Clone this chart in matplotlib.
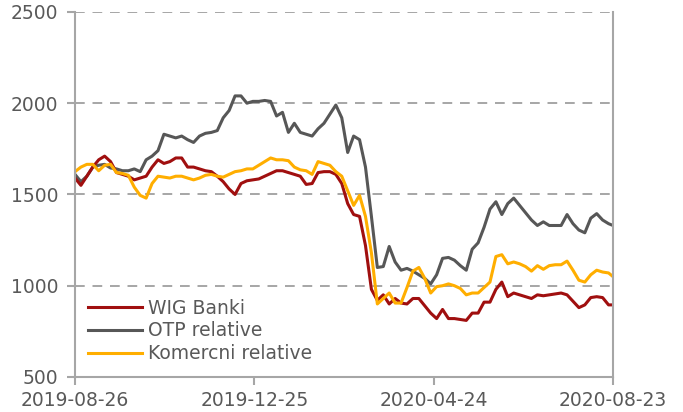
import numpy as np
import pandas as pd
import matplotlib
matplotlib.use("Agg")
import matplotlib.pyplot as plt
import matplotlib.dates as mdates

# dates every 4 days plus the last day of the range
dates = pd.date_range("2019-08-26", periods=91, freq="4D").append(pd.DatetimeIndex(["2020-08-23"]))

wig_banki = [1590, 1550, 1600, 1650, 1690, 1710, 1680, 1620, 1610, 1600,
             1580, 1590, 1600, 1650, 1690, 1670, 1680, 1700, 1700, 1650,
             1650, 1640, 1630, 1625, 1600, 1570, 1530, 1500, 1560, 1575,
             1580, 1585, 1600, 1615, 1630, 1630, 1620, 1610, 1600, 1555,
             1560, 1620, 1625, 1625, 1610, 1560, 1450, 1390, 1380, 1220,
             980, 920, 950, 900, 930, 905, 900, 930, 930, 890,
             850, 820, 870, 820, 820, 815, 810, 850, 850, 910,
             910, 980, 1020, 940, 960, 950, 940, 930, 950, 945,
             950, 955, 960, 950, 915, 880, 895, 935, 940, 935,
             895, 895]

otp_relative = [1610, 1570, 1600, 1650, 1660, 1665, 1645, 1640, 1630, 1630,
                1640, 1625, 1690, 1710, 1740, 1830, 1820, 1810, 1820, 1800,
                1785, 1820, 1835, 1840, 1850, 1920, 1960, 2040, 2040, 2000,
                2010, 2010, 2015, 2010, 1930, 1950, 1840, 1890, 1840, 1830,
                1820, 1860, 1890, 1940, 1990, 1920, 1730, 1820, 1800, 1650,
                1380, 1100, 1105, 1215, 1130, 1085, 1095, 1080, 1060, 1040,
                1010, 1060, 1150, 1155, 1140, 1110, 1085, 1200, 1235, 1320,
                1420, 1460, 1390, 1450, 1480, 1440, 1400, 1360, 1330, 1350,
                1330, 1330, 1330, 1390, 1340, 1305, 1290, 1370, 1395, 1360,
                1340, 1330]

komercni_relative = [1625, 1650, 1665, 1665, 1630, 1660, 1665, 1620, 1615, 1605,
                     1540, 1495, 1480, 1560, 1600, 1595, 1590, 1600, 1600, 1590,
                     1580, 1590, 1605, 1610, 1600, 1595, 1610, 1625, 1630, 1640,
                     1640, 1660, 1680, 1700, 1690, 1690, 1685, 1650, 1635, 1630,
                     1610, 1680, 1670, 1660, 1625, 1600, 1520, 1440, 1495, 1380,
                     1180, 900, 930, 960, 905, 905, 990, 1080, 1100, 1040,
                     960, 995, 1000, 1010, 1000, 985, 950, 960, 960, 990,
                     1020, 1160, 1170, 1120, 1130, 1120, 1105, 1080, 1110, 1090,
                     1110, 1115, 1115, 1135, 1085, 1030, 1020, 1060, 1085, 1075,
                     1070, 1050]

tick_dates = ["2019-08-26", "2019-12-25", "2020-04-24", "2020-08-23"]

text_col = "#595959"
axis_col = "#A6A6A6"

fig = plt.figure(figsize=(6.83, 4.12), dpi=100)
ax = fig.add_axes([0.1098, 0.085, 0.7877, 0.886])

l_otp, = ax.plot(dates, otp_relative, color="#575757", lw=2.2, label="OTP relative")
l_wig, = ax.plot(dates, wig_banki, color="#A00F0F", lw=2.2, label="WIG Banki")
l_kom, = ax.plot(dates, komercni_relative, color="#FFAE00", lw=2.2, label="Komercni relative")

ax.set_ylim(500, 2500)
ax.set_yticks([500, 1000, 1500, 2000, 2500])
ax.set_xlim(pd.Timestamp(tick_dates[0]), pd.Timestamp(tick_dates[-1]))
ax.set_xticks(pd.to_datetime(tick_dates))
ax.xaxis.set_major_formatter(mdates.DateFormatter("%Y-%m-%d"))

for y in [1000, 1500, 2000, 2500]:
    ax.axhline(y, color=axis_col, lw=1.4, ls=(0, (5, 4)), zorder=0)

ax.spines["top"].set_visible(False)
for s in ["left", "bottom", "right"]:
    ax.spines[s].set_color(axis_col)
    ax.spines[s].set_linewidth(1.5)

ax.tick_params(axis="both", colors=axis_col, labelcolor=text_col, labelsize=13.5,
               length=6, width=1.5, direction="out")
ax.tick_params(axis="x", pad=4)
ax.tick_params(axis="y", pad=6)

leg = ax.legend(handles=[l_wig, l_otp, l_kom], loc="upper left",
                bbox_to_anchor=(0.01, 0.235), frameon=False, fontsize=13.5,
                handlelength=2.9, handletextpad=0.3, labelspacing=0.2, borderaxespad=0)
for t in leg.get_texts():
    t.set_color(text_col)

fig.savefig("out.png", dpi=100)
